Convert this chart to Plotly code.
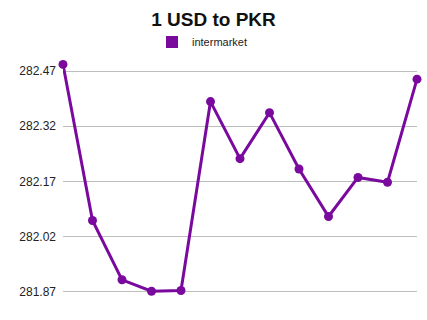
import plotly.graph_objects as go

dates = list(range(13))
rates = [282.488, 282.064, 281.903, 281.872, 281.874, 282.387, 282.232,
         282.357, 282.204, 282.075, 282.181, 282.168, 282.448]
tick_vals = [281.87, 282.02, 282.17, 282.32, 282.47]
tick_text = ["281.87", "282.02", "282.17", "282.32", "282.47"]
series_name = "intermarket"
color = "#7a0a9e"

fig = go.Figure()
fig.add_trace(go.Scatter(
    x=dates, y=rates, mode="lines+markers",
    line=dict(color=color, width=3),
    marker=dict(color=color, size=9),
    cliponaxis=False, showlegend=False, name=series_name,
))
fig.add_trace(go.Scatter(
    x=[None], y=[None], mode="markers", name=series_name,
    marker=dict(symbol="square", color=color, size=11),
    showlegend=True,
))

fig.update_layout(
    width=427, height=320,
    margin=dict(l=63, r=10, t=60, b=17, autoexpand=False),
    paper_bgcolor="white", plot_bgcolor="white",
    font=dict(family="Liberation Sans, Arial, sans-serif", color="#222", size=11),
    title=dict(text="<b>1 USD to PKR</b>", x=0.5, xref="container", xanchor="center",
               y=1 - 19/320, yref="container", yanchor="middle",
               font=dict(size=19, color="#111")),
    legend=dict(orientation="h", x=152/427, xref="container", xanchor="left",
                y=1 - 42/320, yref="container", yanchor="middle",
                font=dict(size=11, color="#222"), itemsizing="constant",
                bgcolor="rgba(0,0,0,0)"),
    xaxis=dict(range=[0, 12], showgrid=False, zeroline=False, showticklabels=False,
               showline=False, ticks=""),
    yaxis=dict(range=[281.84, 282.50], tickvals=tick_vals, ticktext=tick_text,
               showgrid=True, gridcolor="#bdbdbd", gridwidth=1, zeroline=False,
               showline=False, ticks="", ticklabelstandoff=6,
               tickfont=dict(size=12, color="#222")),
    showlegend=True,
)

fig.write_html("out.html")
